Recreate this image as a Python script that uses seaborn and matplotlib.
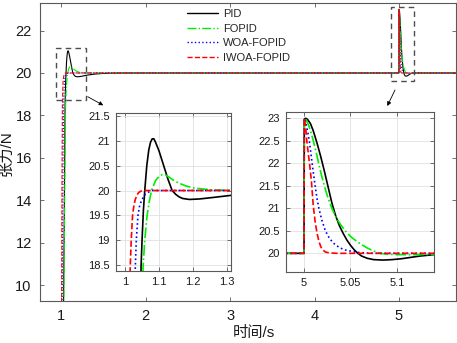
import matplotlib
matplotlib.use("Agg")
import matplotlib.pyplot as plt
import seaborn as sns
from matplotlib.patches import Rectangle
from matplotlib.ticker import FuncFormatter

# tension response (time in s, tension in N)
t_pid = [0.75, 1.0, 1.02, 1.035, 1.047, 1.05, 1.054, 1.058, 1.064, 1.07, 1.075, 1.08, 1.085,
         1.09, 1.1, 1.114, 1.127, 1.139, 1.15, 1.16, 1.17, 1.19, 1.22, 1.26, 1.31, 1.4, 1.5,
         1.7, 5.0, 5.0003, 5.002, 5.004, 5.007, 5.01, 5.014, 5.018, 5.022, 5.026, 5.03,
         5.034, 5.038, 5.042, 5.046, 5.05, 5.054, 5.058, 5.062, 5.068, 5.075, 5.085, 5.095,
         5.105, 5.115, 5.125, 5.14, 5.16, 5.2, 5.7]
y_pid = [0, 0, 5, 12, 18.45, 19.0, 19.6, 20.0, 20.5, 20.82, 20.97, 21.04, 21.04,
         20.97, 20.8, 20.5, 20.22, 20.0, 19.92, 19.87, 19.84, 19.82, 19.83, 19.86, 19.9, 19.95, 19.98,
         20.0, 20.0, 22.98, 23.0, 22.97, 22.88, 22.72, 22.45, 22.15, 21.82, 21.47, 21.12,
         20.84, 20.62, 20.45, 20.3, 20.18, 20.08, 20.0, 19.94, 19.89, 19.86, 19.85, 19.86,
         19.88, 19.91, 19.94, 19.97, 19.99, 20.0, 20.0]

t_fopid = [0.75, 1.0, 1.02, 1.035, 1.045, 1.053, 1.058, 1.065, 1.072, 1.078, 1.09, 1.1, 1.11,
           1.12, 1.13, 1.14, 1.15, 1.164, 1.18, 1.204, 1.23, 1.254, 1.29, 1.33, 5.0, 5.0003,
           5.002, 5.005, 5.008, 5.01, 5.013, 5.016, 5.019, 5.023, 5.026, 5.03, 5.035, 5.04,
           5.046, 5.052, 5.06, 5.068, 5.075, 5.082, 5.09, 5.1, 5.12, 5.14, 5.18, 5.22, 5.7]
y_fopid = [0, 0, 4, 10, 15.5, 18.45, 19.0, 19.5, 19.8, 20.0, 20.2, 20.28, 20.32,
           20.31, 20.27, 20.22, 20.18, 20.135, 20.09, 20.05, 20.03, 20.015, 20.005, 20.0, 20.0, 23.0,
           22.97, 22.85, 22.65, 22.5, 22.25, 21.98, 21.72, 21.42, 21.22, 21.0, 20.78, 20.62,
           20.46, 20.34, 20.22, 20.12, 20.05, 20.0, 19.98, 19.97, 19.97, 19.975, 19.99, 20.0, 20.0]

t_woa = [0.75, 1.0, 1.01, 1.02, 1.025, 1.03, 1.033, 1.038, 1.043, 1.05, 1.06, 1.07, 1.08,
         5.0, 5.0003, 5.002, 5.004, 5.006, 5.008, 5.01, 5.012, 5.014, 5.016, 5.019, 5.023,
         5.027, 5.031, 5.035, 5.04, 5.045, 5.05, 5.058, 5.068, 5.08, 5.7]
y_woa = [0, 0, 7, 14, 16.8, 18.45, 19.0, 19.5, 19.7, 19.82, 19.93, 19.97, 20.0,
         20.0, 23.0, 22.9, 22.7, 22.45, 22.12, 21.8, 21.5, 21.22, 21.0, 20.75, 20.5,
         20.35, 20.24, 20.17, 20.11, 20.07, 20.05, 20.02, 20.005, 20.0, 20.0]

t_iwoa = [0.75, 1.0, 1.005, 1.01, 1.015, 1.018, 1.022, 1.026, 1.03, 1.035, 1.04, 1.05,
          5.0, 5.0003, 5.002, 5.003, 5.004, 5.005, 5.006, 5.008, 5.01, 5.012, 5.014, 5.016,
          5.018, 5.02, 5.023, 5.027, 5.035, 5.7]
y_iwoa = [0, 0, 8, 14.5, 18.45, 19.0, 19.5, 19.7, 19.82, 19.91, 19.96, 20.0,
          20.0, 23.0, 22.75, 22.5, 22.33, 22.15, 21.98, 21.6, 21.05, 20.7, 20.45, 20.27,
          20.15, 20.08, 20.03, 20.01, 20.0, 20.0]

names = ["PID", "FOPID", "WOA-FOPID", "IWOA-FOPID"]
series = [(t_pid, y_pid), (t_fopid, y_fopid), (t_woa, y_woa), (t_iwoa, y_iwoa)]
colors = ["black", "#00ee00", "#0000ff", "#ff0000"]
styles = ["-", "-.", ":", "--"]


def draw(ax, lw):
    lines = []
    for name, (t, y), c, ls in zip(names, series, colors, styles):
        sns.lineplot(x=t, y=y, ax=ax, color=c, linestyle=ls, linewidth=lw, sort=False,
                     estimator=None, legend=False)
        lines.append(ax.get_lines()[-1])
    return lines


def style_axes(ax, size, pad):
    for s in ax.spines.values():
        s.set_color("0.35")
        s.set_linewidth(0.8)
    ax.tick_params(direction="in", top=True, right=True, length=3, width=0.6, color="0.35",
                   labelsize=size, pad=pad, labelcolor="#1a1a1a")
    ax.set_xlabel("")
    ax.set_ylabel("")


sns.set_style("ticks")
plt.rcParams["font.family"] = ["Liberation Sans", "Noto Sans CJK SC"]

fig = plt.figure(figsize=(4.57, 3.43), dpi=100)
ax = fig.add_axes([40 / 457, 1 - 301 / 343, 416 / 457, 298 / 343])
main_lines = draw(ax, 0.8)
ax.set_xlim(0.75, 5.675)
ax.set_ylim(9.25, 23.3)
ax.set_xticks([1, 2, 3, 4, 5])
ax.set_yticks([10, 12, 14, 16, 18, 20, 22])
style_axes(ax, 10.5, 6)

# zoom boxes and arrows
for (x0, y0, x1, y1) in [(0.94, 18.75, 1.30, 21.2), (4.90, 19.63, 5.178, 23.12)]:
    ax.add_patch(Rectangle((x0, y0), x1 - x0, y1 - y0, fill=False, ec="0.3", lw=1.0,
                           ls=(0, (4, 3)), zorder=5))
for (xs, ys, xe, ye) in [(87.7, 96.7, 103.3, 105.3), (395, 90, 387.3, 106)]:
    ax.annotate("", xy=(xe / 457, 1 - ye / 343), xytext=(xs / 457, 1 - ys / 343),
                xycoords="figure fraction", textcoords="figure fraction",
                arrowprops=dict(arrowstyle="-|>", color="k", lw=0.6, mutation_scale=6,
                                shrinkA=0, shrinkB=0))

leg = ax.legend(main_lines, names, loc="upper left", bbox_to_anchor=(187 / 457, 1 - 9 / 343),
                bbox_transform=fig.transFigure, frameon=False, fontsize=8,
                handlelength=2.8, handletextpad=0.45, labelspacing=0.42, borderpad=0,
                borderaxespad=0)
for ln in leg.get_lines():
    ln.set_linewidth(1.0)

fmt = FuncFormatter(lambda v, p: f"{v:g}")

# inset around the step
ax1 = fig.add_axes([116 / 457, 1 - 271 / 343, 115 / 457, 158 / 343])
ax1.set_facecolor("white")
draw(ax1, 1.2)
ax1.set_xlim(0.973, 1.313)
ax1.set_ylim(18.38, 21.56)
ax1.set_xticks([1, 1.1, 1.2, 1.3])
ax1.set_yticks([18.5, 19, 19.5, 20, 20.5, 21, 21.5])
ax1.xaxis.set_major_formatter(fmt)
ax1.yaxis.set_major_formatter(fmt)
ax1.grid(True, color="0.88", lw=0.6)
style_axes(ax1, 8, 4.5)

# inset around the disturbance
ax2 = fig.add_axes([286 / 457, 1 - 272 / 343, 148 / 457, 160 / 343])
ax2.set_facecolor("white")
draw(ax2, 1.2)
ax2.set_xlim(4.9806, 5.14)
ax2.set_ylim(19.585, 23.14)
ax2.set_xticks([5, 5.05, 5.1])
ax2.set_yticks([20, 20.5, 21, 21.5, 22, 22.5, 23])
ax2.xaxis.set_major_formatter(fmt)
ax2.yaxis.set_major_formatter(fmt)
ax2.grid(True, color="0.88", lw=0.6)
style_axes(ax2, 8, 4.5)

fig.text(253.5 / 457, 1 - 333 / 343, "时间/s", ha="center", va="center", fontsize=11,
         color="#1a1a1a")
fig.text(6.7 / 457, 1 - 153 / 343, "张力/N", ha="center", va="center", rotation=90,
         fontsize=11, color="#1a1a1a")

fig.savefig("out.png", dpi=100)
